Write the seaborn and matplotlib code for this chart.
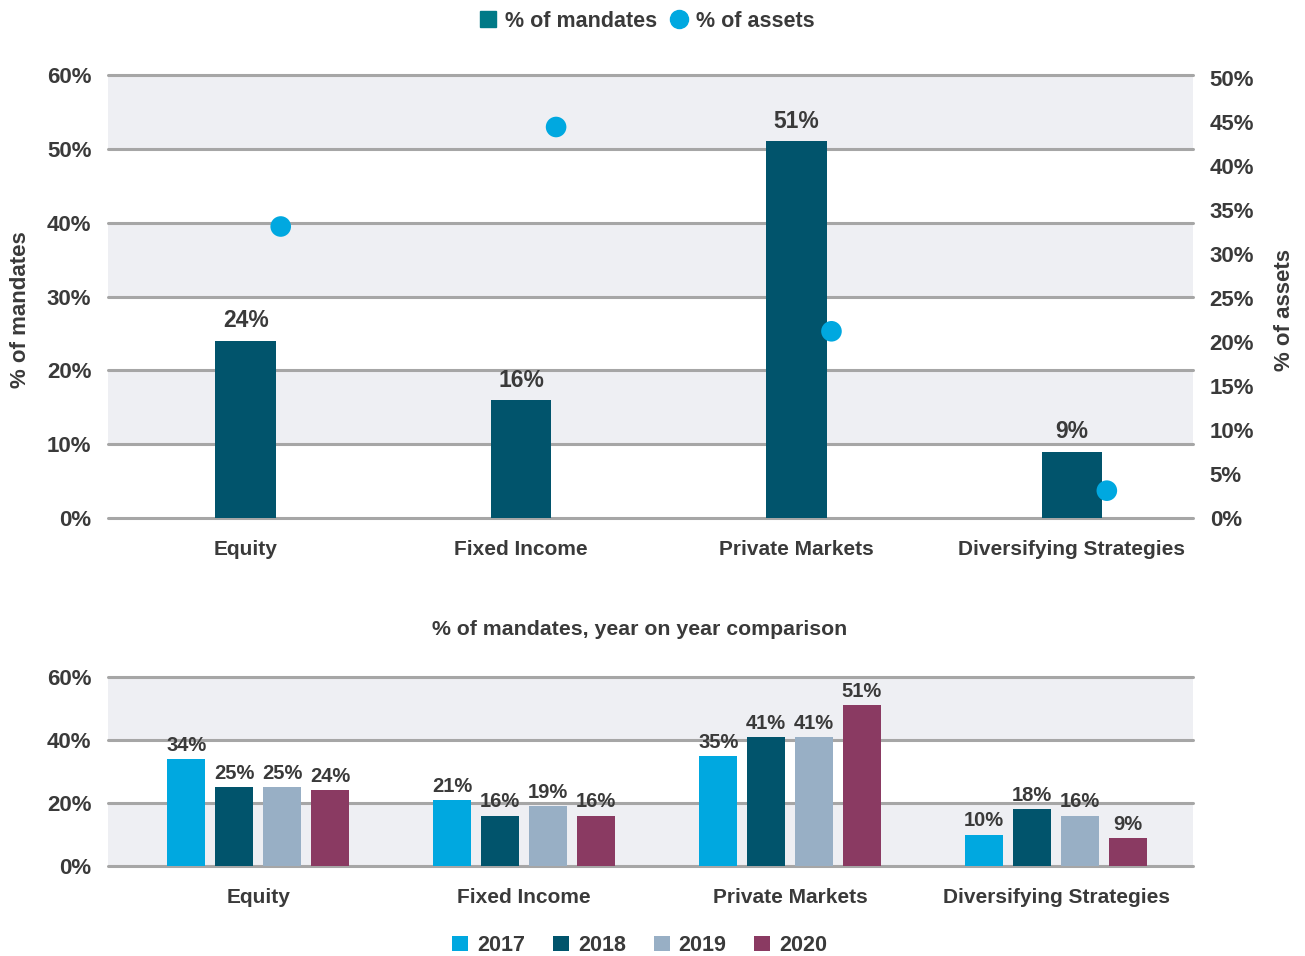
import matplotlib
matplotlib.use("Agg")
import matplotlib.pyplot as plt
from matplotlib.lines import Line2D
import seaborn as sns
import pandas as pd
import numpy as np

# data
categories = ["Equity", "Fixed Income", "Private Markets", "Diversifying Strategies"]
mandates_2020 = [24, 16, 51, 9]
assets_2020 = [33.1, 44.4, 21.2, 3.1]

years = ["2017", "2018", "2019", "2020"]
mandates_by_year = {
    "2017": [34, 21, 35, 10],
    "2018": [25, 16, 41, 18],
    "2019": [25, 19, 41, 16],
    "2020": [24, 16, 51, 9],
}

teal = "#01546c"
sky = "#00a8e0"
year_colors = ["#00a8e0", "#01546c", "#98afc5", "#8a3a62"]
band = "#eeeff3"
grid_c = "#a6a6a6"
text_c = "#3a3a3a"

sns.set_theme(style="white")
plt.rcParams["font.family"] = ["Liberation Sans", "DejaVu Sans"]
plt.rcParams["font.weight"] = "bold"
plt.rcParams["text.color"] = text_c
plt.rcParams["axes.labelcolor"] = text_c
plt.rcParams["xtick.color"] = text_c
plt.rcParams["ytick.color"] = text_c

fig = plt.figure(figsize=(13.05, 9.56), dpi=100)
ax = fig.add_axes([0.0828, 0.4582, 0.8314, 0.4633])
ax2 = ax.twinx()
axb = fig.add_axes([0.0828, 0.0941, 0.8314, 0.1977])


def style_axis(a, ticks, bands):
    for lo, hi in bands:
        a.axhspan(lo, hi, color=band, zorder=0, lw=0)
    for t in ticks:
        a.axhline(t, color=grid_c, lw=2.2, zorder=1, clip_on=False)
    a.set_yticks(ticks)
    a.set_yticklabels([f"{t:g}%" for t in ticks])
    a.tick_params(axis="y", length=0, labelsize=16, pad=12)
    a.tick_params(axis="x", length=0, labelsize=15, pad=16)
    for s in a.spines.values():
        s.set_visible(False)
    for lab in a.get_xticklabels() + a.get_yticklabels():
        lab.set_fontweight("bold")


# top chart: mandates bars + assets dots
sns.barplot(x=categories, y=mandates_2020, color=teal, width=0.22,
            saturation=1, linewidth=0, ax=ax, zorder=2)
ax.set_xlim(-0.5, 3.44)
ax.set_ylim(0, 60)
style_axis(ax, [0, 10, 20, 30, 40, 50, 60], [(50, 60), (30, 40), (10, 20)])
ax.set_xlabel("")
ax.set_ylabel("% of mandates", fontsize=16, fontweight="bold")
ax.yaxis.set_label_coords(-0.071, 0.47)
for c in ax.containers:
    ax.bar_label(c, fmt="%g%%", padding=6, fontsize=16.5, fontweight="bold",
                 color=text_c)

dot_x = np.arange(len(categories)) + 0.127
sns.scatterplot(x=dot_x, y=assets_2020, color=sky, s=220, edgecolor="none",
                ax=ax2, zorder=5)
ax2.set_ylim(0, 50.3)
ax2.set_yticks(range(0, 51, 5))
ax2.set_yticklabels([f"{t}%" for t in range(0, 51, 5)])
ax2.tick_params(axis="y", length=0, labelsize=16, pad=12)
for lab in ax2.get_yticklabels():
    lab.set_fontweight("bold")
for s in ax2.spines.values():
    s.set_visible(False)
ax2.set_ylabel("% of assets", fontsize=16, fontweight="bold")
ax2.yaxis.set_label_coords(1.075, 0.47)

handles = [
    Line2D([], [], marker="s", ls="", color="#007a87", markersize=11),
    Line2D([], [], marker="o", ls="", color=sky, markersize=13),
]
fig.legend(handles, ["% of mandates", "% of assets"], loc="center",
           bbox_to_anchor=(0.495, 0.978), ncol=2, frameon=False,
           fontsize=15.5, handlelength=1.0, handletextpad=0.3,
           columnspacing=0.5)

# bottom chart: year on year comparison
df = pd.DataFrame(
    [(cat, yr, mandates_by_year[yr][i]) for yr in years
     for i, cat in enumerate(categories)],
    columns=["category", "year", "value"],
)
sns.barplot(data=df, x="category", y="value", hue="year", palette=year_colors,
            width=0.72, gap=0.2, saturation=1, linewidth=0, ax=axb, zorder=2)
axb.set_xlim(-0.564, 3.515)
axb.set_ylim(0, 60)
style_axis(axb, [0, 20, 40, 60], [(40, 60), (0, 20)])
axb.set_xlabel("")
axb.set_ylabel("")
for c in axb.containers:
    axb.bar_label(c, fmt="%g%%", padding=3, fontsize=14.5, fontweight="bold",
                  color=text_c)
axb.set_title("% of mandates, year on year comparison", fontsize=15.3,
              fontweight="bold", pad=30, x=0.49)
sns.move_legend(axb, "center", bbox_to_anchor=(0.49, -0.42), ncol=4,
                frameon=False, title=None, fontsize=15.5, handlelength=0.75,
                handleheight=0.75, handletextpad=0.4, columnspacing=1.3)

fig.savefig("out.png", dpi=100)
